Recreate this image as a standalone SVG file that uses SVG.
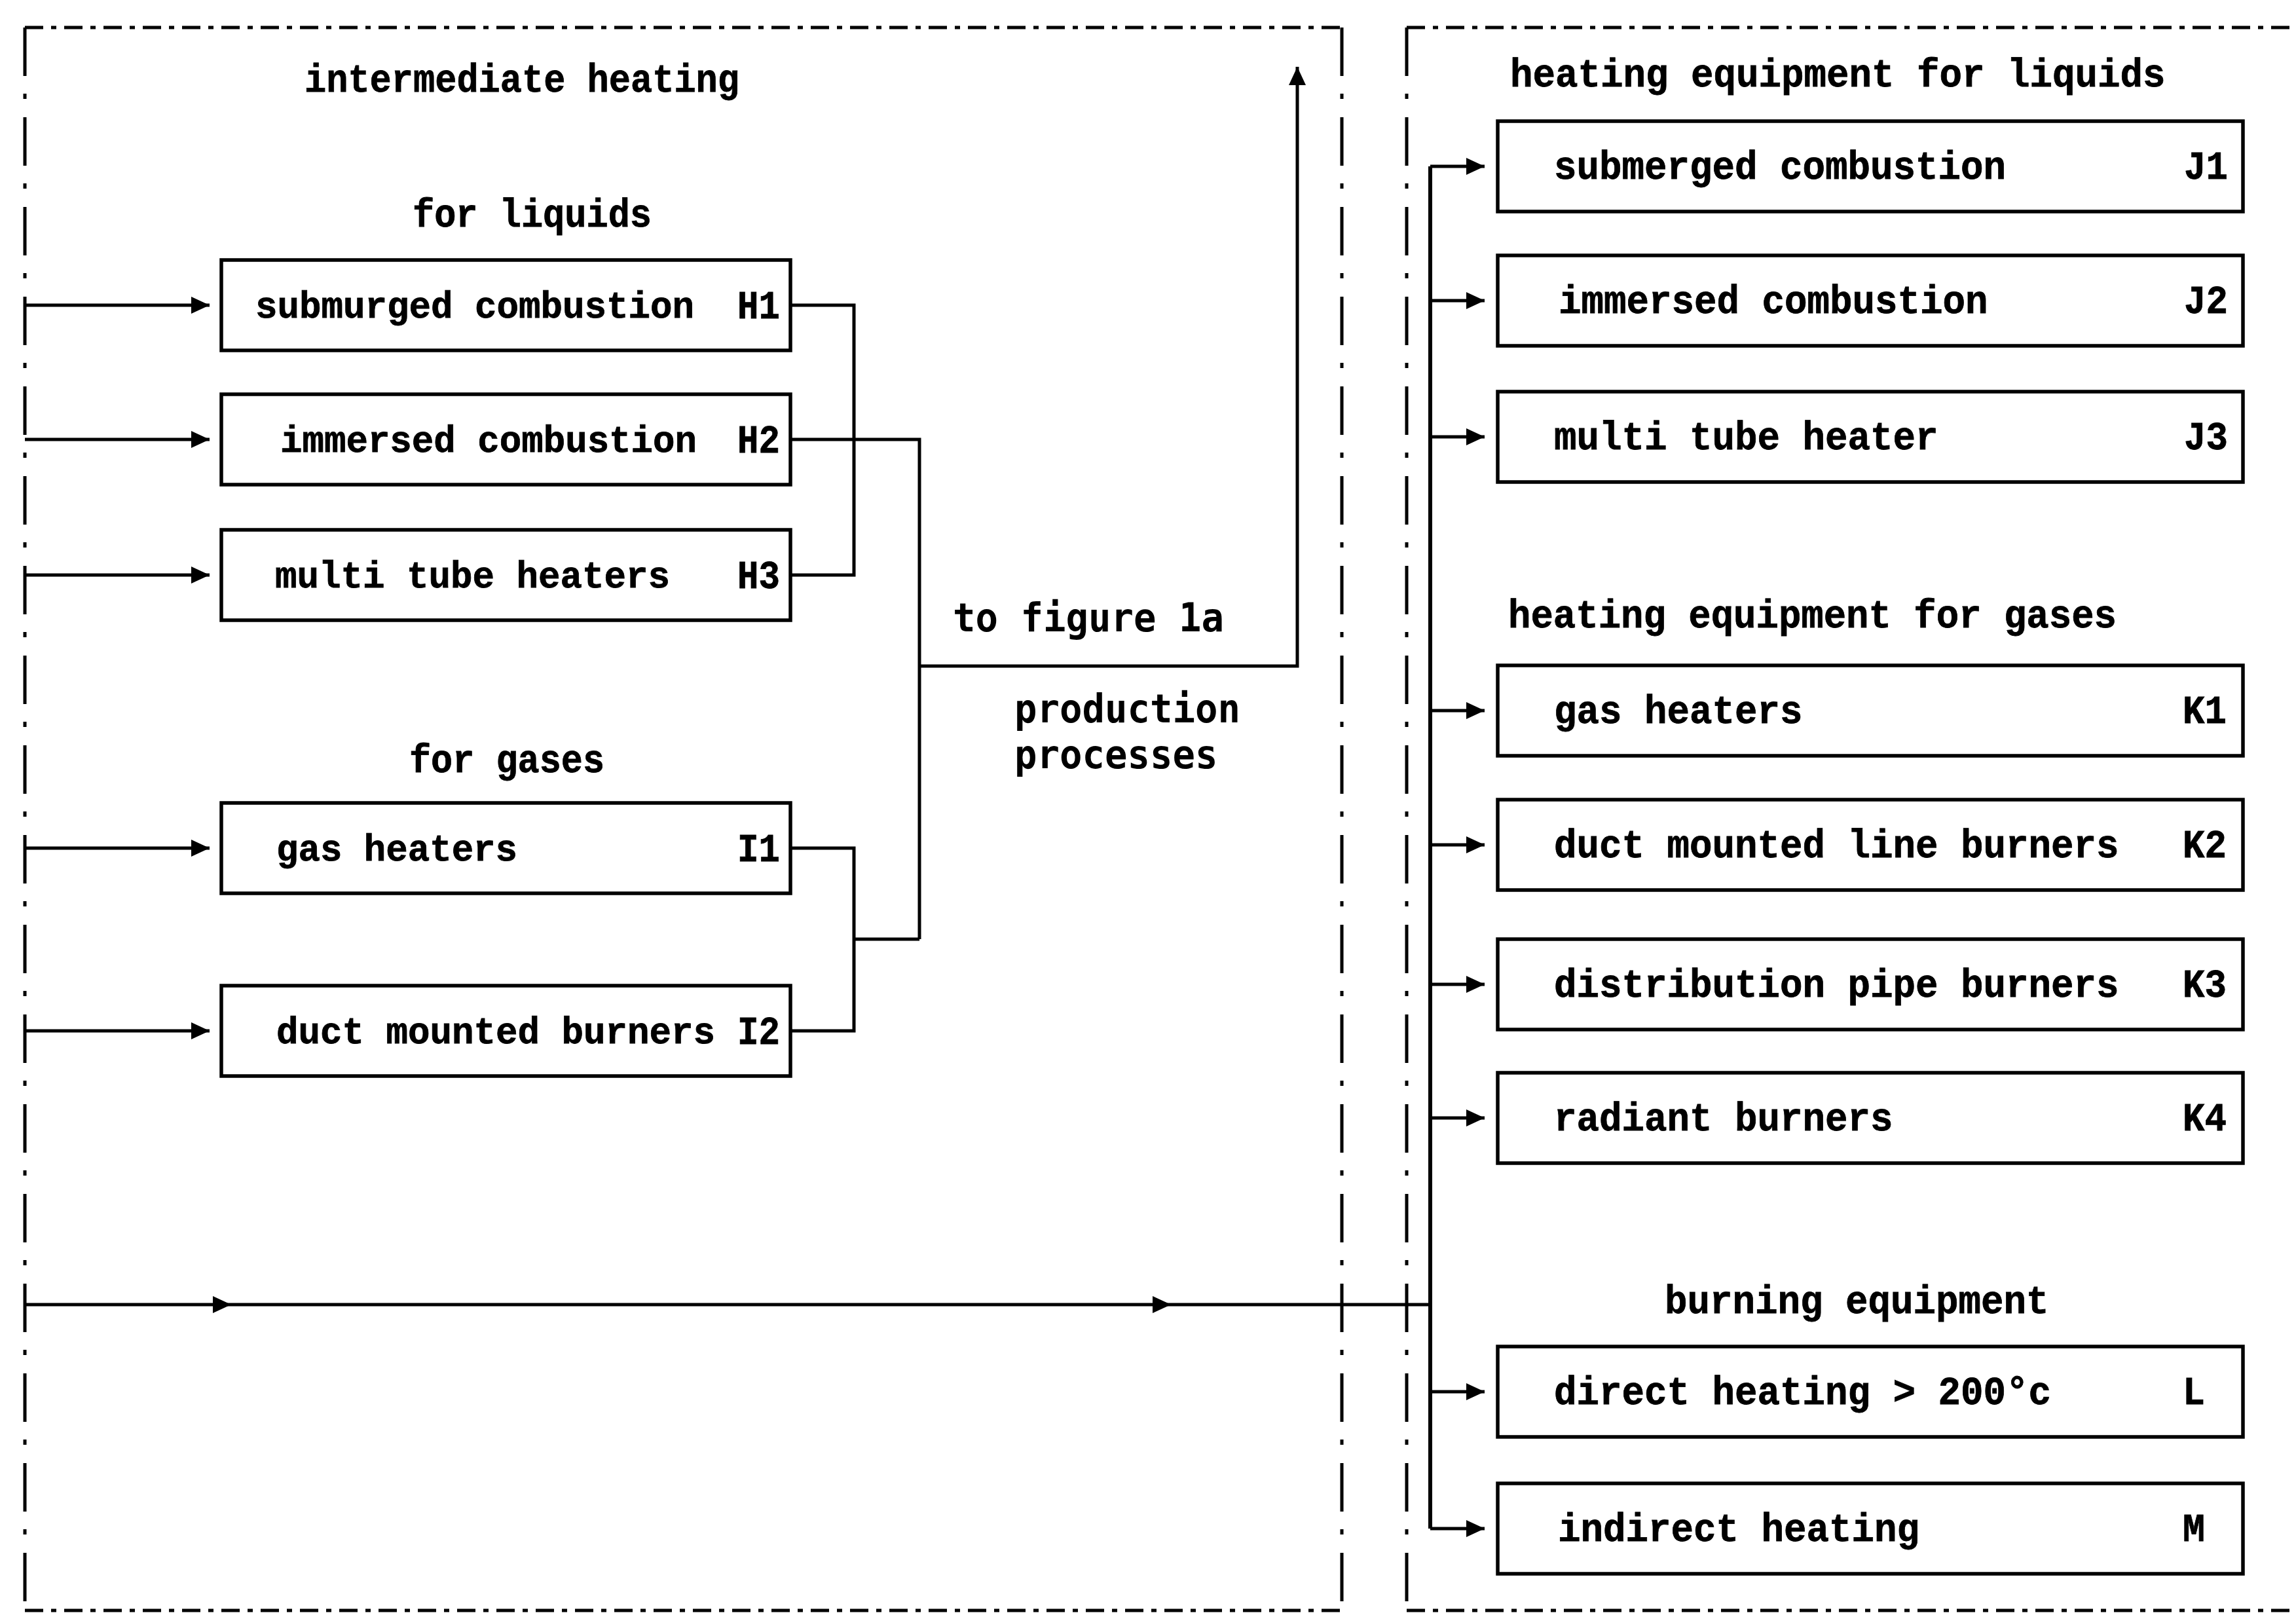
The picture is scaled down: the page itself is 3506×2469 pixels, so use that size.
<svg xmlns="http://www.w3.org/2000/svg" width="3506" height="2469" viewBox="0 0 3506 2469">
<style>
  .frame { fill: none; stroke: #000; stroke-width: 5; }
  .fv { stroke-dasharray: 74 27 8 28; }
  .fh { stroke-dasharray: 28 12 8 12; }
  .box { fill: #fff; stroke: #000; stroke-width: 5.5; }
  .t { font-family: "Liberation Mono", "DejaVu Sans Mono", monospace; font-weight: bold; font-size: 62px; fill: #000; stroke: #000; stroke-width: 0.8; }
  .s { font-size: 58px; }
  .w { font-family: "DejaVu Sans Mono", "Liberation Mono", monospace; font-weight: bold; font-size: 60px; fill: #000; }
  .c { fill: none; stroke: #000; stroke-width: 5; }
  .a { marker-end: url(#ah); }
</style>
<defs>
  <marker id="ah" viewBox="0 0 28 26" refX="28" refY="13" markerWidth="28" markerHeight="26" markerUnits="userSpaceOnUse" orient="auto">
    <path d="M0,0 L28,13 L0,26 z" fill="#000"/>
  </marker>
</defs>
<rect width="3506" height="2469" fill="#fff"/>

<g id="frames">
  <path class="frame fh" d="M38,42 H2049"/>
  <path class="frame fv" d="M38,42 V2459"/>
  <path class="frame fv" d="M2049,42 V2459"/>
  <path class="frame fh" d="M38,2459 H2049"/>
  <path class="frame fh" d="M2148,42 H3506"/>
  <path class="frame fv" d="M2148,42 V2459"/>
  <path class="frame fh" d="M2148,2459 H3506"/>
</g>

<g id="labels">
  <text class="t" x="465" y="140" textLength="664" lengthAdjust="spacingAndGlyphs">intermediate heating</text>
  <text class="t" x="630" y="346" textLength="365" lengthAdjust="spacingAndGlyphs">for liquids</text>
  <text class="t" x="625" y="1179" textLength="298" lengthAdjust="spacingAndGlyphs">for gases</text>
  <text class="w" x="1455" y="964" textLength="414" lengthAdjust="spacingAndGlyphs">to figure 1a</text>
  <text class="w" x="1549" y="1103" textLength="345" lengthAdjust="spacingAndGlyphs">production</text>
  <text class="w" x="1549" y="1173" textLength="310.5" lengthAdjust="spacingAndGlyphs">processes</text>
  <text class="t" x="2306" y="132" textLength="1000.5" lengthAdjust="spacingAndGlyphs">heating equipment for liquids</text>
  <text class="t" x="2303" y="958" textLength="929" lengthAdjust="spacingAndGlyphs">heating equipment for gases</text>
  <text class="t" x="2542" y="2005" textLength="586.5" lengthAdjust="spacingAndGlyphs">burning equipment</text>
</g>

<g id="connectors">
  <path class="c a" d="M38,466 H320"/>
  <path class="c a" d="M38,671 H320"/>
  <path class="c a" d="M38,878 H320"/>
  <path class="c a" d="M38,1295 H320"/>
  <path class="c a" d="M38,1574 H320"/>
  <path class="c a" d="M38,1992 H353"/>
  <path class="c a" d="M353,1992 H1788"/>
  <path class="c" d="M1788,1992 H2184"/>
  <path class="c" d="M1207,466 H1304 V878 H1207"/>
  <path class="c" d="M1207,671 H1404 V1434"/>
  <path class="c" d="M1207,1295 H1304 V1574 H1207"/>
  <path class="c" d="M1304,1434 H1404"/>
  <path class="c a" d="M1404,1017 H1981 V102"/>
  <path class="c" d="M2184,254 V2334" style="stroke-width:6"/>
  <path class="c a" d="M2184,254 H2267"/>
  <path class="c a" d="M2184,459 H2267"/>
  <path class="c a" d="M2184,667 H2267"/>
  <path class="c a" d="M2184,1085 H2267"/>
  <path class="c a" d="M2184,1290 H2267"/>
  <path class="c a" d="M2184,1503 H2267"/>
  <path class="c a" d="M2184,1707 H2267"/>
  <path class="c a" d="M2184,2125 H2267"/>
  <path class="c a" d="M2184,2334 H2267"/>
</g>

<g id="H1"><rect class="box" x="338" y="397" width="869" height="138"/>
  <text class="t s" x="390" y="485" textLength="670" lengthAdjust="spacingAndGlyphs">submurged combustion</text>
  <text class="t" x="1126" y="486" textLength="65" lengthAdjust="spacingAndGlyphs">H1</text></g>
<g id="H2"><rect class="box" x="338" y="602" width="869" height="138"/>
  <text class="t s" x="428" y="690" textLength="636" lengthAdjust="spacingAndGlyphs">immersed combustion</text>
  <text class="t" x="1126" y="691" textLength="65" lengthAdjust="spacingAndGlyphs">H2</text></g>
<g id="H3"><rect class="box" x="338" y="809" width="869" height="138"/>
  <text class="t s" x="420" y="897" textLength="603" lengthAdjust="spacingAndGlyphs">multi tube heaters</text>
  <text class="t" x="1126" y="898" textLength="65" lengthAdjust="spacingAndGlyphs">H3</text></g>
<g id="I1"><rect class="box" x="338" y="1226" width="869" height="138"/>
  <text class="t s" x="422" y="1314" textLength="368" lengthAdjust="spacingAndGlyphs">gas heaters</text>
  <text class="t" x="1126" y="1315" textLength="65" lengthAdjust="spacingAndGlyphs">I1</text></g>
<g id="I2"><rect class="box" x="338" y="1505" width="869" height="138"/>
  <text class="t s" x="422" y="1593" textLength="670" lengthAdjust="spacingAndGlyphs">duct mounted burners</text>
  <text class="t" x="1126" y="1594" textLength="65" lengthAdjust="spacingAndGlyphs">I2</text></g>

<g id="J1"><rect class="box" x="2287" y="185" width="1138" height="138"/>
  <text class="t" x="2373" y="273" textLength="690" lengthAdjust="spacingAndGlyphs">submerged combustion</text>
  <text class="t" x="3335" y="273" textLength="67" lengthAdjust="spacingAndGlyphs">J1</text></g>
<g id="J2"><rect class="box" x="2287" y="390" width="1138" height="138"/>
  <text class="t" x="2380" y="478" textLength="655.5" lengthAdjust="spacingAndGlyphs">immersed combustion</text>
  <text class="t" x="3335" y="478" textLength="67" lengthAdjust="spacingAndGlyphs">J2</text></g>
<g id="J3"><rect class="box" x="2287" y="598" width="1138" height="138"/>
  <text class="t" x="2373" y="686" textLength="586.5" lengthAdjust="spacingAndGlyphs">multi tube heater</text>
  <text class="t" x="3335" y="686" textLength="67" lengthAdjust="spacingAndGlyphs">J3</text></g>
<g id="K1"><rect class="box" x="2287" y="1016" width="1138" height="138"/>
  <text class="t" x="2373" y="1104" textLength="379.5" lengthAdjust="spacingAndGlyphs">gas heaters</text>
  <text class="t" x="3333" y="1104" textLength="67" lengthAdjust="spacingAndGlyphs">K1</text></g>
<g id="K2"><rect class="box" x="2287" y="1221" width="1138" height="138"/>
  <text class="t" x="2373" y="1309" textLength="862.5" lengthAdjust="spacingAndGlyphs">duct mounted line burners</text>
  <text class="t" x="3333" y="1309" textLength="67" lengthAdjust="spacingAndGlyphs">K2</text></g>
<g id="K3"><rect class="box" x="2287" y="1434" width="1138" height="138"/>
  <text class="t" x="2373" y="1522" textLength="862.5" lengthAdjust="spacingAndGlyphs">distribution pipe burners</text>
  <text class="t" x="3333" y="1522" textLength="67" lengthAdjust="spacingAndGlyphs">K3</text></g>
<g id="K4"><rect class="box" x="2287" y="1638" width="1138" height="138"/>
  <text class="t" x="2373" y="1726" textLength="517.5" lengthAdjust="spacingAndGlyphs">radiant burners</text>
  <text class="t" x="3333" y="1726" textLength="67" lengthAdjust="spacingAndGlyphs">K4</text></g>
<g id="L"><rect class="box" x="2287" y="2056" width="1138" height="138"/>
  <text class="t" x="2373" y="2144" textLength="759" lengthAdjust="spacingAndGlyphs">direct heating &gt; 200°c</text>
  <text class="t" x="3333" y="2144" textLength="34" lengthAdjust="spacingAndGlyphs">L</text></g>
<g id="M"><rect class="box" x="2287" y="2265" width="1138" height="138"/>
  <text class="t" x="2379" y="2353" textLength="552" lengthAdjust="spacingAndGlyphs">indirect heating</text>
  <text class="t" x="3333" y="2353" textLength="34" lengthAdjust="spacingAndGlyphs">M</text></g>
</svg>
